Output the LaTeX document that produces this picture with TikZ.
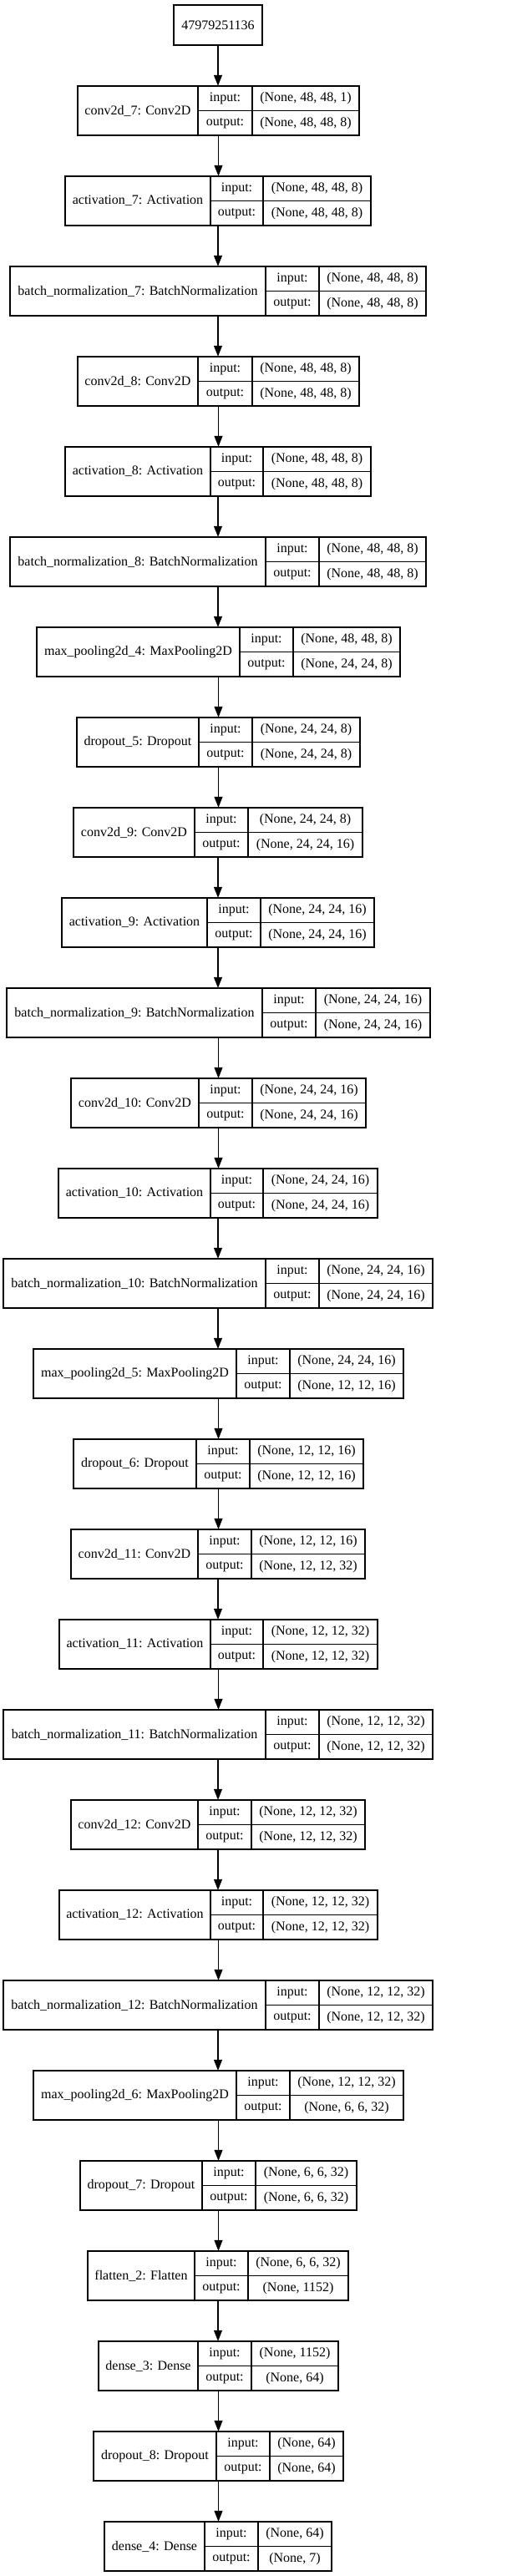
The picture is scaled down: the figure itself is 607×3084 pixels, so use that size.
\documentclass[tikz,border=0pt]{standalone}
\usepackage{fontspec}
\setmainfont{Liberation Serif}
\usepackage{tikz}
\usetikzlibrary{positioning, arrows.meta, fit}

\newcommand{\lyrfont}{\fontsize{16}{19}\selectfont}
% one Keras layer: id, row, left, div1, div2, right, label, input shape, output shape
\newcommand{\layer}[9]{%
  \pgfmathsetmacro{\ytop}{103+108*#2}
  \pgfmathsetmacro{\ymid}{\ytop+29.5}
  \node[cell, anchor=north west, minimum width={(#4-#3)*1pt}, minimum height=59pt] (#1-l) at (#3,\ytop) {#7};
  \node[cell, anchor=north west, minimum width={(#5-#4)*1pt}, minimum height=29.5pt] (#1-ii) at (#4,\ytop) {input:};
  \node[cell, anchor=north west, minimum width={(#5-#4)*1pt}, minimum height=29.5pt] (#1-io) at (#4,\ymid) {output:};
  \node[cell, anchor=north west, minimum width={(#6-#5)*1pt}, minimum height=29.5pt] (#1-si) at (#5,\ytop) {#8};
  \node[cell, anchor=north west, minimum width={(#6-#5)*1pt}, minimum height=29.5pt] (#1-so) at (#5,\ymid) {#9};
  \node[fit=(#1-l)(#1-so), inner sep=0pt] (#1) {};
}

\begin{document}
\begin{tikzpicture}[
    x=1pt, y=-1pt,
    cell/.style={draw, line width=1.1pt, inner sep=0pt, outer sep=0pt, font=\lyrfont},
    flow/.style={-{Triangle[length=13pt, width=10pt]}, line width=1.1pt},
  ]
  \useasboundingbox (0,0) rectangle (607,3084);

  \node[cell, anchor=north west, minimum width=106pt, minimum height=48pt] (in) at (208,6) {47979251136};

  \layer{c7}{0}{93}{237}{302}{430}{conv2d\_7: Conv2D}{(None, 48, 48, 1)}{(None, 48, 48, 8)}
  \layer{a7}{1}{78}{252}{315}{444}{activation\_7: Activation}{(None, 48, 48, 8)}{(None, 48, 48, 8)}
  \layer{b7}{2}{12}{318}{382}{510}{batch\_normalization\_7: BatchNormalization}{(None, 48, 48, 8)}{(None, 48, 48, 8)}
  \layer{c8}{3}{93}{237}{302}{430}{conv2d\_8: Conv2D}{(None, 48, 48, 8)}{(None, 48, 48, 8)}
  \layer{a8}{4}{78}{252}{315}{444}{activation\_8: Activation}{(None, 48, 48, 8)}{(None, 48, 48, 8)}
  \layer{b8}{5}{12}{318}{382}{510}{batch\_normalization\_8: BatchNormalization}{(None, 48, 48, 8)}{(None, 48, 48, 8)}
  \layer{p4}{6}{44}{287}{351}{479}{max\_pooling2d\_4: MaxPooling2D}{(None, 48, 48, 8)}{(None, 24, 24, 8)}
  \layer{d5}{7}{92}{238}{302}{431}{dropout\_5: Dropout}{(None, 24, 24, 8)}{(None, 24, 24, 8)}
  \layer{c9}{8}{88}{233}{297}{434}{conv2d\_9: Conv2D}{(None, 24, 24, 8)}{(None, 24, 24, 16)}
  \layer{a9}{9}{74}{248}{312}{448}{activation\_9: Activation}{(None, 24, 24, 16)}{(None, 24, 24, 16)}
  \layer{b9}{10}{8}{314}{378}{515}{batch\_normalization\_9: BatchNormalization}{(None, 24, 24, 16)}{(None, 24, 24, 16)}
  \layer{c10}{11}{85}{238}{302}{438}{conv2d\_10: Conv2D}{(None, 24, 24, 16)}{(None, 24, 24, 16)}
  \layer{a10}{12}{70}{252}{315}{452}{activation\_10: Activation}{(None, 24, 24, 16)}{(None, 24, 24, 16)}
  \layer{b10}{13}{4}{318}{382}{518}{batch\_normalization\_10: BatchNormalization}{(None, 24, 24, 16)}{(None, 24, 24, 16)}
  \layer{p5}{14}{40}{283}{347}{483}{max\_pooling2d\_5: MaxPooling2D}{(None, 24, 24, 16)}{(None, 12, 12, 16)}
  \layer{d6}{15}{88}{235}{299}{435}{dropout\_6: Dropout}{(None, 12, 12, 16)}{(None, 12, 12, 16)}
  \layer{c11}{16}{85}{237}{301}{437}{conv2d\_11: Conv2D}{(None, 12, 12, 16)}{(None, 12, 12, 32)}
  \layer{a11}{17}{71}{252}{315}{452}{activation\_11: Activation}{(None, 12, 12, 32)}{(None, 12, 12, 32)}
  \layer{b11}{18}{4}{318}{382}{518}{batch\_normalization\_11: BatchNormalization}{(None, 12, 12, 32)}{(None, 12, 12, 32)}
  \layer{c12}{19}{85}{237}{301}{437}{conv2d\_12: Conv2D}{(None, 12, 12, 32)}{(None, 12, 12, 32)}
  \layer{a12}{20}{71}{252}{315}{452}{activation\_12: Activation}{(None, 12, 12, 32)}{(None, 12, 12, 32)}
  \layer{b12}{21}{4}{318}{382}{518}{batch\_normalization\_12: BatchNormalization}{(None, 12, 12, 32)}{(None, 12, 12, 32)}
  \layer{p6}{22}{40}{283}{347}{483}{max\_pooling2d\_6: MaxPooling2D}{(None, 12, 12, 32)}{(None, 6, 6, 32)}
  \layer{d7}{23}{96}{242}{306}{427}{dropout\_7: Dropout}{(None, 6, 6, 32)}{(None, 6, 6, 32)}
  \layer{f2}{24}{105}{233}{297}{417}{flatten\_2: Flatten}{(None, 6, 6, 32)}{(None, 1152)}
  \layer{e3}{25}{118}{237}{301}{405}{dense\_3: Dense}{(None, 1152)}{(None, 64)}
  \layer{d8}{26}{112}{259}{323}{411}{dropout\_8: Dropout}{(None, 64)}{(None, 64)}
  \layer{e4}{27}{125}{245}{309}{397}{dense\_4: Dense}{(None, 64)}{(None, 7)}

  % connectors
  \foreach \a/\b in {in/c7, c7/a7, a7/b7, b7/c8, c8/a8, a8/b8, b8/p4, p4/d5,
      d5/c9, c9/a9, a9/b9, b9/c10, c10/a10, a10/b10, b10/p5, p5/d6, d6/c11,
      c11/a11, a11/b11, b11/c12, c12/a12, a12/b12, b12/p6, p6/d7, d7/f2,
      f2/e3, e3/d8, d8/e4}
    \draw[flow] (\a.south) -- (\a.south |- \b.north);
\end{tikzpicture}
\end{document}
